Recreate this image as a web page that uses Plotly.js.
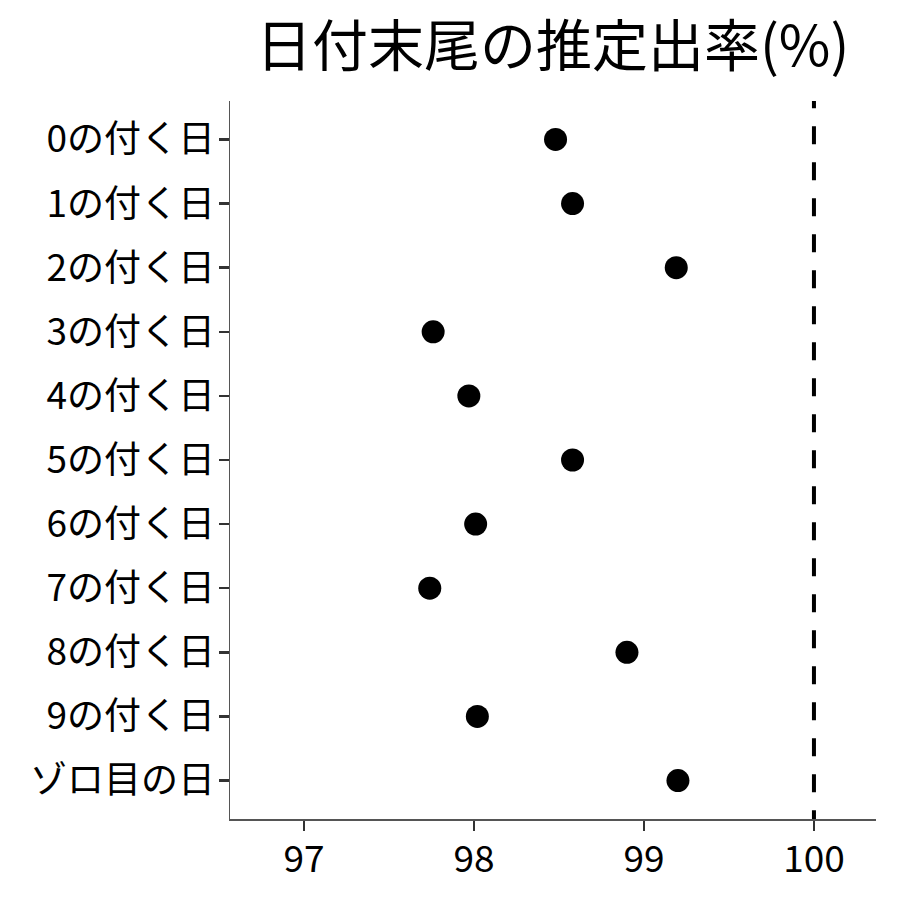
<!DOCTYPE html>
<html>
<head>
<meta charset="utf-8">
<script src="https://cdn.plot.ly/plotly-3.0.1.min.js"></script>
<style>html,body{margin:0;padding:0;background:#fff;}#chart{width:900px;height:900px;}</style>
</head>
<body>
<div id="chart"></div>
<script>
const categories = ["0の付く日","1の付く日","2の付く日","3の付く日","4の付く日","5の付く日","6の付く日","7の付く日","8の付く日","9の付く日","ゾロ目の日"];
const rates = [98.48, 98.58, 99.19, 97.76, 97.97, 98.58, 98.01, 97.74, 98.90, 98.02, 99.20];
const refValue = 100;
const xTicks = [97, 98, 99, 100];
const titleText = "日付末尾の推定出率(%)";

const font = "Noto Sans CJK JP, Noto Sans, sans-serif";

const trace = {
  type: "scatter",
  mode: "markers",
  x: rates,
  y: categories,
  marker: {color: "#000000", size: 23},
  hoverinfo: "x+y",
  showlegend: false
};

const layout = {
  width: 900, height: 900,
  margin: {l: 230, r: 24, t: 101, b: 81, pad: 0},
  paper_bgcolor: "#ffffff",
  plot_bgcolor: "#ffffff",
  title: {text: titleText, font: {family: font, size: 56, color: "#000"}, x: 0.614, xanchor: "center", y: 0.949, yanchor: "middle"},
  xaxis: {
    range: [96.565, 100.365],
    tickvals: xTicks,
    ticktext: xTicks.map(String),
    showgrid: false, zeroline: false,
    showline: true, linecolor: "#555555", linewidth: 1.5,
    ticks: "outside", ticklen: 10, tickwidth: 2.5, tickcolor: "#333333",
    ticklabelstandoff: -3,
    tickfont: {family: font, size: 37, color: "#000"}
  },
  yaxis: {
    type: "category",
    categoryorder: "array", categoryarray: categories,
    range: [10.6, -0.6],
    showgrid: false, zeroline: false,
    showline: true, linecolor: "#555555", linewidth: 1.5,
    ticks: "outside", ticklen: 10, tickwidth: 2.5, tickcolor: "#333333",
    ticklabelstandoff: -4,
    tickfont: {family: font, size: 37, color: "#000"}
  },
  shapes: [{
    type: "line", xref: "x", yref: "y",
    x0: refValue, x1: refValue, y0: -0.767, y1: 10.6,
    line: {color: "#000", width: 4, dash: "18px,18px"}
  }]
};

Plotly.newPlot("chart", [trace], layout, {displayModeBar: false, staticPlot: true});
</script>
</body>
</html>
